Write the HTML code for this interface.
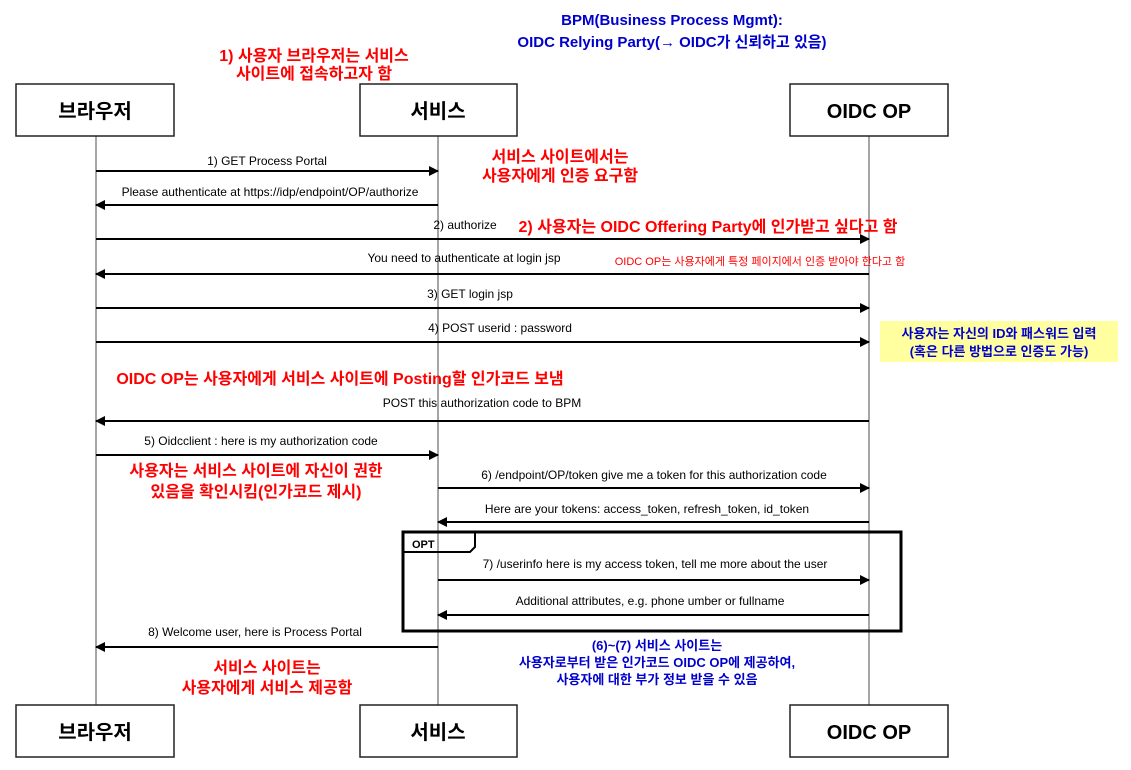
<!DOCTYPE html>
<html><head><meta charset="utf-8"><style>
body{margin:0;background:#fff}
svg{display:block;font-family:"Liberation Sans","Noto Sans CJK KR",sans-serif}
.m{font-size:12px;fill:#000}
.r{font-size:16px;fill:#f00;font-weight:bold}
.b{font-size:15px;fill:#00c;font-weight:bold}
</style></head><body>
<svg width="1131" height="770" viewBox="0 0 1131 770">
<defs><marker id="a" markerWidth="10" markerHeight="10" refX="9" refY="5" orient="auto" markerUnits="userSpaceOnUse"><path d="M0,0 L10,5 L0,10z" fill="#000"/></marker></defs>
<g stroke="#888" stroke-width="1.5">
<line x1="96" y1="136" x2="96" y2="705"/><line x1="438" y1="136" x2="438" y2="705"/><line x1="869" y1="136" x2="869" y2="705"/></g>
<g fill="#fff" stroke="#222" stroke-width="1.5">
<rect x="16" y="84" width="158" height="52"/><rect x="360" y="84" width="157" height="52"/><rect x="790" y="84" width="158" height="52"/>
<rect x="16" y="705" width="158" height="52"/><rect x="360" y="705" width="157" height="52"/><rect x="790" y="705" width="158" height="52"/></g>
<g font-size="20" font-weight="bold" text-anchor="middle">
<text x="95" y="118">브라우저</text><text x="438" y="118">서비스</text><text x="869" y="118">OIDC OP</text>
<text x="95" y="739">브라우저</text><text x="438" y="739">서비스</text><text x="869" y="739">OIDC OP</text></g>
<rect x="880" y="321" width="238" height="41" fill="#ffffa0"/>
<rect x="403" y="532" width="498" height="99" fill="none" stroke="#000" stroke-width="3"/>
<path d="M403,552 H470 L475,547 V532" fill="none" stroke="#000" stroke-width="2"/>
<text x="412" y="548" font-size="11" font-weight="bold">OPT</text>
<g stroke="#000" stroke-width="2" marker-end="url(#a)">
<line x1="96" y1="171" x2="438" y2="171"/><line x1="438" y1="205" x2="96" y2="205"/>
<line x1="96" y1="239" x2="869" y2="239"/><line x1="869" y1="274" x2="96" y2="274"/>
<line x1="96" y1="308" x2="869" y2="308"/><line x1="96" y1="342" x2="869" y2="342"/>
<line x1="869" y1="421" x2="96" y2="421"/><line x1="96" y1="455" x2="438" y2="455"/>
<line x1="438" y1="488" x2="869" y2="488"/><line x1="869" y1="522" x2="438" y2="522"/>
<line x1="438" y1="580" x2="869" y2="580"/><line x1="869" y1="615" x2="438" y2="615"/>
<line x1="438" y1="647" x2="96" y2="647"/></g>
<g class="m" text-anchor="middle">
<text x="267" y="165">1) GET Process Portal</text>
<text x="270" y="196">Please authenticate at https://idp/endpoint/OP/authorize</text>
<text x="465" y="229">2) authorize</text>
<text x="464" y="262">You need to authenticate at login jsp</text>
<text x="470" y="298">3) GET login jsp</text>
<text x="500" y="332">4) POST userid : password</text>
<text x="482" y="407">POST this authorization code to BPM</text>
<text x="261" y="445">5) Oidcclient : here is my authorization code</text>
<text x="654" y="479">6) /endpoint/OP/token give me a token for this authorization code</text>
<text x="647" y="513">Here are your tokens: access_token, refresh_token, id_token</text>
<text x="655" y="568">7) /userinfo here is my access token, tell me more about the user</text>
<text x="650" y="605">Additional attributes, e.g. phone umber or fullname</text>
<text x="255" y="636">8) Welcome user, here is Process Portal</text></g>
<g class="r" text-anchor="middle">
<text x="314" y="61">1) 사용자 브라우저는 서비스</text><text x="314" y="79">사이트에 접속하고자 함</text>
<text x="560" y="162">서비스 사이트에서는</text><text x="560" y="181">사용자에게 인증 요구함</text>
<text x="708" y="232">2) 사용자는 OIDC Offering Party에 인가받고 싶다고 함</text>
<text x="340" y="384">OIDC OP는 사용자에게 서비스 사이트에 Posting할 인가코드 보냄</text>
<text x="256" y="476">사용자는 서비스 사이트에 자신이 권한</text><text x="256" y="497">있음을 확인시킴(인가코드 제시)</text>
<text x="267" y="673">서비스 사이트는</text><text x="267" y="693">사용자에게 서비스 제공함</text>
<text x="760" y="265" font-size="11" font-weight="normal">OIDC OP는 사용자에게 특정 페이지에서 인증 받아야 한다고 함</text></g>
<g class="b" text-anchor="middle">
<text x="672" y="25">BPM(Business Process Mgmt):</text>
<text x="672" y="47">OIDC Relying Party(→ OIDC가 신뢰하고 있음)</text>
<text x="999" y="338" font-size="13">사용자는 자신의 ID와 패스워드 입력</text>
<text x="999" y="356" font-size="13">(혹은 다른 방법으로 인증도 가능)</text>
<text x="657" y="650" font-size="13">(6)~(7) 서비스 사이트는</text>
<text x="657" y="667" font-size="13">사용자로부터 받은 인가코드 OIDC OP에 제공하여,</text>
<text x="657" y="684" font-size="13">사용자에 대한 부가 정보 받을 수 있음</text></g>
</svg>
</body></html>
